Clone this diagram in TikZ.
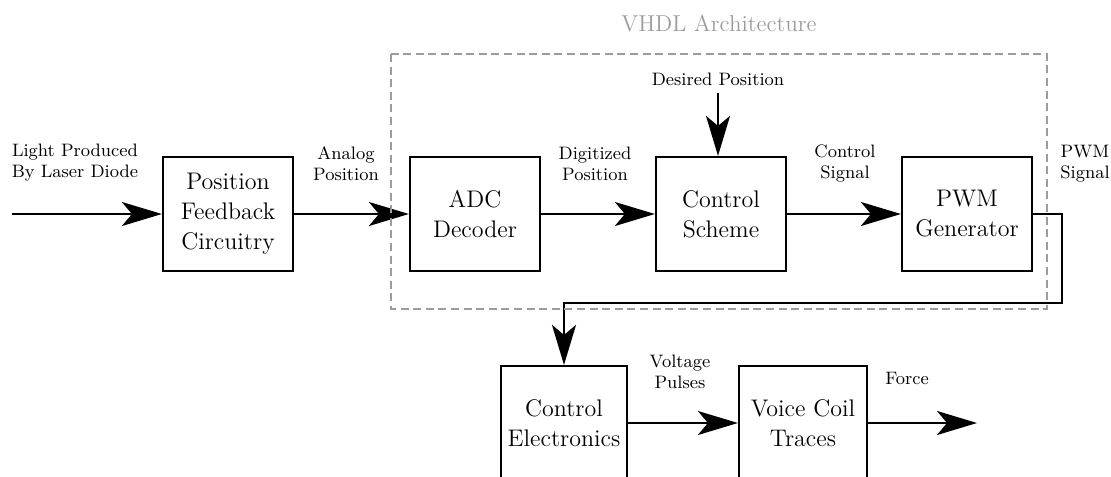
\documentclass[tikz,border=0pt]{standalone}
\usetikzlibrary{arrows.meta}
\definecolor{archgray}{HTML}{9C9C9C}
\begin{document}
\begin{tikzpicture}[x=0.5pt,y=-0.5pt,
  block/.style={draw,line width=1.1pt,minimum width=65pt,minimum height=57pt,
    align=center,inner sep=0pt,font=\fontsize{12}{15}\selectfont},
  lbl/.style={align=center,inner sep=0pt,font=\fontsize{9}{10.5}\selectfont},
  flow/.style={line width=1.1pt,-{Stealth[length=20pt,width=12pt,inset=5pt]}},
  archbox/.style={draw=archgray,line width=1pt,dash pattern=on 4pt off 2.3pt},
]
\useasboundingbox (0,0) rectangle (1111,476);

% processing blocks
\node[block] (pfc) at (228,214) {Position\\Feedback\\Circuitry};
\node[block] (adc) at (475,214) {ADC\\Decoder};
\node[block] (cs)  at (721,214) {Control\\Scheme};
\node[block] (pwm) at (967,214) {PWM\\Generator};
\node[block,minimum width=63pt] (ce) at (564,423) {Control\\Electronics};
\node[block,minimum width=64pt] (vc) at (803,423) {Voice Coil\\Traces};

% free ends and bends
\coordinate (src) at (12,214);
\coordinate (dp)  at (718,93);
\coordinate (bend) at (1062,303);
\coordinate (out) at (977,423);

% signal flow
\draw[flow] (src) -- (pfc);
\draw[flow] (pfc) -- (adc);
\draw[flow] (adc) -- (cs);
\draw[flow] (cs) -- (pwm);
\draw[flow] (dp) -- (dp |- cs.north);
\draw[flow] (pwm.east) -| (bend) -| (ce.north);
\draw[flow] (ce) -- (vc);
\draw[flow] (vc) -- (out);

% signal labels
\node[lbl] (l1) at (75,163) {Light Produced\\By Laser Diode};
\node[lbl] (l2) at (346,164) {Analog\\Position};
\node[lbl] (l3) at (595,164) {Digitized\\Position};
\node[lbl] (l4) at (845,164) {Control\\Signal};
\node[lbl] (l5) at (1085,164) {PWM\\Signal};
\node[lbl] (l6) at (718,79) {Desired Position};
\node[lbl] (l7) at (680,372) {Voltage\\Pulses};
\node[lbl] (l8) at (907,378) {Force};

% FPGA boundary
\draw[archbox] (391,54) rectangle (1047,309);
\node[lbl,text=archgray,font=\fontsize{11.5}{13}\selectfont] (arch) at (719,24) {VHDL Architecture};
\end{tikzpicture}
\end{document}
